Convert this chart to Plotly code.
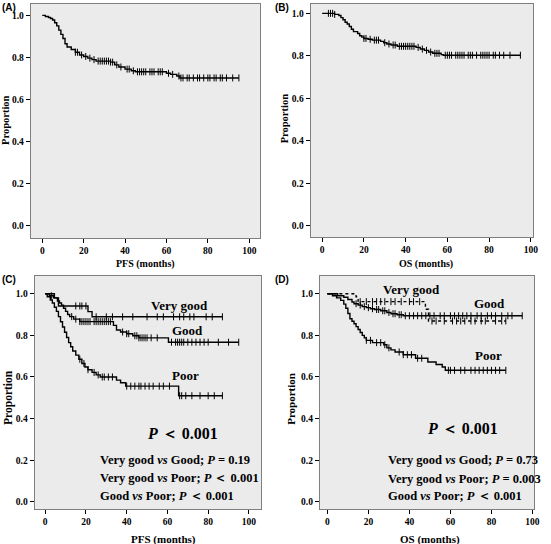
import numpy as np
import plotly.graph_objects as go

# ---------------- data ----------------
A_t = [0, 1.5, 3, 4, 5, 6, 7, 8, 9, 10, 11, 12, 14, 16, 18, 20, 22, 24, 26, 33, 35, 37, 40, 43, 45, 60, 62, 65, 66.5]
A_s = [1.0, 0.995, 0.99, 0.985, 0.978, 0.965, 0.95, 0.93, 0.91, 0.89, 0.865, 0.85, 0.838, 0.825, 0.812, 0.805, 0.797, 0.79, 0.783, 0.778, 0.765, 0.755, 0.745, 0.737, 0.732, 0.725, 0.72, 0.712, 0.703]
A_end = 95
A_c = [16, 17, 19, 21, 23, 25, 27, 28, 29, 30, 31, 32, 33, 34, 36, 38, 41, 42, 44, 46, 47, 48, 49, 50, 52, 53, 54, 56, 57, 58,
       61, 63, 66, 67, 68, 70, 71, 73, 75, 76, 78, 80, 81, 83, 84, 86, 87, 89, 92, 95]

B_t = [0, 6, 8, 9, 10, 11, 12, 13, 14, 15, 17, 18, 19, 20, 22, 24, 28, 29.5, 31, 33, 36, 45, 47, 49, 51, 53, 57, 58]
B_s = [1.0, 0.995, 0.99, 0.98, 0.97, 0.958, 0.95, 0.938, 0.925, 0.914, 0.905, 0.895, 0.888, 0.882, 0.878, 0.874, 0.868, 0.862, 0.856, 0.851, 0.845, 0.84, 0.832, 0.826, 0.818, 0.812, 0.806, 0.803]
B_end = 95
B_c = [3, 4, 5, 6, 20, 21, 23, 25, 26, 27, 30, 32, 34, 35, 37, 38, 39, 40, 41, 42, 43, 44, 46, 48, 50, 52, 54, 55, 56, 59, 60,
       61, 62, 64, 65, 66, 67, 68, 70, 71, 72, 74, 76, 77, 78, 79, 80, 82, 83, 85, 87, 90, 95]

C_vg_t = [0, 4.5, 6.5, 21, 23]
C_vg_s = [1.0, 0.98, 0.941, 0.914, 0.889]
C_vg_end = 87
C_vg_c = [15, 17, 18, 20, 25, 30, 33, 38, 43, 50, 55, 58, 63, 66, 68, 71, 73, 79, 82, 87]

C_g_t = [0, 2, 4, 6, 7, 8, 9, 10, 11, 12, 14, 17, 33.5, 35, 37, 40, 43, 46, 60.5]
C_g_s = [1.0, 0.99, 0.98, 0.965, 0.955, 0.945, 0.93, 0.915, 0.9, 0.89, 0.878, 0.866, 0.848, 0.826, 0.816, 0.808, 0.798, 0.788, 0.767]
C_g_end = 95
C_g_c = [3, 13, 15, 17, 18, 19, 20, 21, 22, 24, 25, 26, 27, 28, 29, 30, 31, 32, 38, 40, 41, 44, 45, 46, 47, 48, 49, 50, 52, 55,
         62, 64, 65, 66, 67, 68, 70, 72, 74, 76, 78, 80, 85, 90, 95]

C_p_t = [0, 1, 2.5, 3.5, 4.5, 5.5, 6.5, 7.5, 8.5, 9.5, 10.5, 11.5, 12.5, 13.5, 15, 16.5, 18, 19.5, 21, 23, 25, 27, 35, 37, 39.5, 65.5]
C_p_s = [1.0, 0.985, 0.97, 0.955, 0.935, 0.915, 0.89, 0.865, 0.84, 0.815, 0.79, 0.765, 0.745, 0.725, 0.705, 0.685, 0.665, 0.648, 0.635, 0.622, 0.61, 0.6, 0.585, 0.572, 0.556, 0.51]
C_p_end = 87
C_p_c = [17, 19, 21, 24, 26, 28, 29, 31, 33, 40, 42, 44, 46, 47, 49, 51, 53, 56, 58, 61, 66, 67, 69, 72, 76, 80, 83, 87]

D_vg_t = [0, 14, 15, 47.8, 49.3]
D_vg_s = [1.0, 0.985, 0.962, 0.925, 0.869]
D_vg_end = 87
D_vg_c = [16, 19, 22, 24, 26, 28, 31, 33, 36, 40, 42, 45, 51, 53, 57, 61, 63, 65, 67, 70, 72, 75, 77, 82, 85, 87]

D_g_t = [0, 5, 8, 10, 12, 13, 15, 17, 19, 21, 23, 26, 29, 31, 34, 37]
D_g_s = [1.0, 0.99, 0.983, 0.972, 0.96, 0.952, 0.945, 0.938, 0.933, 0.928, 0.924, 0.918, 0.91, 0.904, 0.899, 0.894]
D_g_end = 95
D_g_c = [14, 16, 18, 20, 22, 24, 25, 27, 28, 30, 32, 33, 35, 36, 38, 40, 42, 44, 46, 48, 50, 52, 55, 57, 60, 62, 64, 66, 68,
         70, 73, 75, 78, 80, 82, 85, 88, 90, 95]

D_p_t = [0, 2.5, 4.5, 6.5, 8, 9, 10, 11, 12, 13, 14, 15, 16, 17, 18, 19, 22, 27.5, 29, 31, 33, 37, 43, 49, 53, 56, 57.5]
D_p_s = [1.0, 0.99, 0.98, 0.968, 0.95, 0.93, 0.905, 0.88, 0.868, 0.856, 0.842, 0.828, 0.814, 0.8, 0.788, 0.776, 0.765, 0.755, 0.74, 0.73, 0.72, 0.707, 0.69, 0.672, 0.66, 0.648, 0.632]
D_p_end = 87
D_p_c = [19, 21, 24, 26, 28, 30, 35, 37, 39, 41, 44, 46, 59, 60, 62, 65, 67, 70, 72, 74, 76, 78, 80, 82, 84, 87]

x_ticks = [0, 20, 40, 60, 80, 100]
y_ticks = [0.0, 0.2, 0.4, 0.6, 0.8, 1.0]

# ---------------- figure ----------------
W, H = 551, 544
fig = go.Figure()

SERIF = "Liberation Serif"


def km(t, s, end, cens, xa, ya, dash="solid"):
    xs = list(t) + [end]
    ys = list(s) + [s[-1]]
    fig.add_trace(go.Scatter(x=xs, y=ys, mode="lines", line=dict(color="black", width=1.4, shape="hv", dash=dash),
                             xaxis=xa, yaxis=ya, showlegend=False, hoverinfo="skip"))
    idx = np.searchsorted(np.array(t), np.array(cens), side="right") - 1
    cy = [s[i] for i in idx]
    fig.add_trace(go.Scatter(x=cens, y=cy, mode="markers",
                             marker=dict(symbol="line-ns", size=5, line=dict(color="black", width=1)),
                             xaxis=xa, yaxis=ya, showlegend=False, hoverinfo="skip"))


km(A_t, A_s, A_end, A_c, "x", "y")
km(B_t, B_s, B_end, B_c, "x2", "y2")
km(C_vg_t, C_vg_s, C_vg_end, C_vg_c, "x3", "y3")
km(C_g_t, C_g_s, C_g_end, C_g_c, "x3", "y3")
km(C_p_t, C_p_s, C_p_end, C_p_c, "x3", "y3")
km(D_vg_t, D_vg_s, D_vg_end, D_vg_c, "x4", "y4", dash="dot")
km(D_g_t, D_g_s, D_g_end, D_g_c, "x4", "y4")
km(D_p_t, D_p_s, D_p_end, D_p_c, "x4", "y4")

# panel pixel boxes: (left, right, top, bottom), x range, y range, tick size
panels = [
    ((31, 263.3, 4, 238), [-5.6, 105.4], [-0.057, 1.054], 9.5),
    ((314, 539, 4, 237), [-5.55, 101.1], [-0.052, 1.044], 9.5),
    ((35, 264, 276, 509), [-5.2, 106.0], [-0.034, 1.085], 9.5),
    ((323.3, 540, 276, 509), [-3.7, 100.8], [-0.034, 1.085], 9.5),
]

layout = {}
for i, (box, xr, yr, ts) in enumerate(panels):
    l, r, t, b = box
    sfx = "" if i == 0 else str(i + 1)
    tickfont = dict(family=SERIF, size=ts, color="black", weight="bold")
    layout["xaxis" + sfx] = dict(
        domain=[l / W, r / W], range=xr, tickvals=x_ticks, ticks="outside", ticklen=4, tickcolor="black",
        showline=True, mirror=True, linecolor="#7f7f7f", linewidth=1, showgrid=False, zeroline=False,
        tickfont=tickfont, anchor="y" + sfx, fixedrange=True)
    layout["yaxis" + sfx] = dict(
        domain=[1 - b / H, 1 - t / H], range=yr, tickvals=y_ticks, tickformat=".1f", ticks="outside", ticklen=4,
        tickcolor="black", showline=True, mirror=True, linecolor="#7f7f7f", linewidth=1, showgrid=False,
        zeroline=False, tickfont=tickfont, anchor="x" + sfx, fixedrange=True)

fig.update_layout(width=W, height=H, margin=dict(l=0, r=0, t=0, b=0), plot_bgcolor="#ebebeb",
                  paper_bgcolor="white", **layout)

ann = []
labels = [("(A)", 0, 0), ("(B)", 276, 0), ("(C)", 0, 272), ("(D)", 276, 272)]
for txt, px, py in labels:
    ann.append(dict(text=txt, x=px / W, y=1 - py / H, xref="paper", yref="paper", xanchor="left", yanchor="top",
                    showarrow=False, font=dict(family="Liberation Sans", size=10, color="black", weight="bold")))

# axis titles (pixel centres)
xtitles = [("PFS (months)", 147, 264, 10), ("OS (months)", 431, 264, 10),
           ("PFS (months)", 165, 539, 11), ("OS (months)", 435, 539, 11)]
for txt, px, py, fs in xtitles:
    ann.append(dict(text=txt, x=px / W, y=1 - py / H, xref="paper", yref="paper", showarrow=False,
                    xanchor="center", yanchor="middle",
                    font=dict(family=SERIF, size=fs, color="black", weight="bold")))
ytitles = [(5, 120, 10.5), (287.5, 118, 10.5), (8, 397, 11.5), (294, 399, 11)]
for px, py, fs in ytitles:
    ann.append(dict(text="Proportion", x=px / W, y=1 - py / H, xref="paper", yref="paper", showarrow=False,
                    xanchor="center", yanchor="middle",
                    textangle=-90, font=dict(family=SERIF, size=fs, color="black", weight="bold")))

lab_font = dict(family=SERIF, size=13, color="black", weight="bold")
big_font = dict(family=SERIF, size=16, color="black", weight="bold")
cmp_font = dict(family=SERIF, size=12.5, color="black", weight="bold")
LT = "＜"

# panel C texts
ann += [
    dict(text="Very good", x=66, y=0.944, xref="x3", yref="y3", showarrow=False, font=lab_font),
    dict(text="Good", x=70, y=0.824, xref="x3", yref="y3", showarrow=False, font=lab_font),
    dict(text="Poor", x=69, y=0.605, xref="x3", yref="y3", showarrow=False, font=lab_font),
    dict(text=f"<i>P</i> {LT} 0.001", x=67.6, y=0.33, xref="x3", yref="y3", showarrow=False, font=big_font),
    dict(text="Very good <i>vs</i> Good; <i>P</i> = 0.19", x=25.9, y=0.2, xref="x3", yref="y3", xanchor="left",
         showarrow=False, font=cmp_font),
    dict(text=f"Very good <i>vs</i> Poor; <i>P</i> {LT} 0.001", x=25.9, y=0.115, xref="x3", yref="y3", xanchor="left",
         showarrow=False, font=cmp_font),
    dict(text=f"Good <i>vs</i> Poor; <i>P</i> {LT} 0.001", x=25.9, y=0.03, xref="x3", yref="y3", xanchor="left",
         showarrow=False, font=cmp_font),
]
# panel D texts
ann += [
    dict(text="Very good", x=40.8, y=1.02, xref="x4", yref="y4", showarrow=False, font=lab_font),
    dict(text="Good", x=79, y=0.952, xref="x4", yref="y4", showarrow=False, font=lab_font),
    dict(text="Poor", x=78.8, y=0.704, xref="x4", yref="y4", showarrow=False, font=lab_font),
    dict(text=f"<i>P</i> {LT} 0.001", x=66, y=0.352, xref="x4", yref="y4", showarrow=False, font=big_font),
    dict(text="Very good <i>vs</i> Good; <i>P</i> = 0.73", x=28.8, y=0.2, xref="x4", yref="y4", xanchor="left",
         showarrow=False, font=cmp_font),
    dict(text="Very good <i>vs</i> Poor; <i>P</i> = 0.003", x=28.8, y=0.112, xref="x4", yref="y4", xanchor="left",
         showarrow=False, font=cmp_font),
    dict(text=f"Good <i>vs</i> Poor; <i>P</i> {LT} 0.001", x=28.8, y=0.029, xref="x4", yref="y4", xanchor="left",
         showarrow=False, font=cmp_font),
]
fig.update_layout(annotations=ann)

fig.write_html("out.html", config={"displayModeBar": False},
               post_script="document.body.style.margin='0';document.body.style.overflow='hidden';")
